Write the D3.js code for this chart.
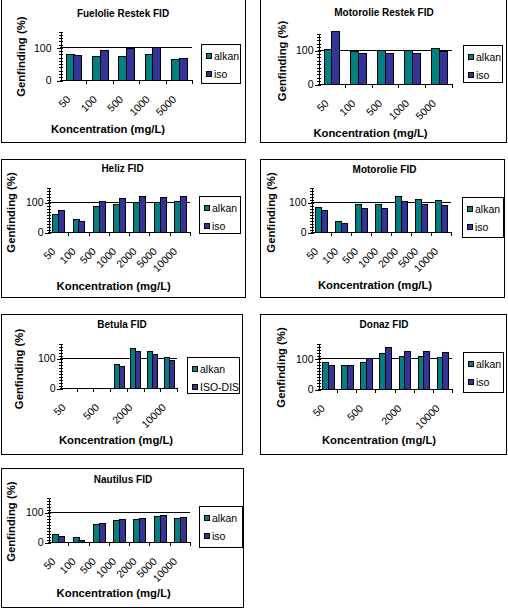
<!DOCTYPE html>
<html>
<head>
<meta charset="utf-8">
<script src="https://cdn.jsdelivr.net/npm/d3@7"></script>
<style>
  body { margin: 0; background: #fff; }
  svg { display: block; font-family: "Liberation Sans", Arial, sans-serif; }
</style>
</head>
<body>
<div id="chart"></div>
<script>
// categories
const cats5 = ["50", "100", "500", "1000", "5000"];
const cats7 = ["50", "100", "500", "1000", "2000", "5000", "10000"];

// series values (Genfinding %)
const fuelAlkan = [81, 73, 72, 79, 63];
const fuelIso = [76, 91, 98, 100, 66];
const motRestekAlkan = [102, 97, 100, 99, 105];
const motRestekIso = [155, 90, 90, 90, 98];
const helizAlkan = [61, 44, 88, 95, 101, 101, 103];
const helizIso = [75, 36, 104, 115, 121, 118, 121];
const motAlkan = [83, 38, 93, 93, 120, 110, 107];
const motIso = [73, 31, 80, 80, 103, 93, 90];
const betulaAlkan = [null, null, null, 80, 133, 123, 103];
const betulaIso = [null, null, null, 73, 123, 113, 93];
const donazAlkan = [87, 77, 87, 116, 106, 106, 103];
const donazIso = [77, 77, 100, 136, 123, 123, 120];
const nautAlkan = [27, 17, 60, 73, 77, 87, 80];
const nautIso = [20, 7, 63, 77, 80, 90, 83];

const titles = ["Fuelolie Restek FID", "Motorolie Restek FID", "Heliz FID", "Motorolie FID",
                "Betula FID", "Donaz FID", "Nautilus FID"];
const yTicks = [0, 100];
const yMax = 150;

const panels = [
  { title: titles[0], cats: cats5, series: ["alkan", "iso"], values: [fuelAlkan, fuelIso] },
  { title: titles[1], cats: cats5, series: ["alkan", "iso"], values: [motRestekAlkan, motRestekIso] },
  { title: titles[2], cats: cats7, series: ["alkan", "iso"], values: [helizAlkan, helizIso] },
  { title: titles[3], cats: cats7, series: ["alkan", "iso"], values: [motAlkan, motIso] },
  { title: titles[4], cats: cats7, series: ["alkan", "ISO-DIS"], values: [betulaAlkan, betulaIso] },
  { title: titles[5], cats: cats7, series: ["alkan", "iso"], values: [donazAlkan, donazIso] },
  { title: titles[6], cats: cats7, series: ["alkan", "iso"], values: [nautAlkan, nautIso] }
];

// panel geometry
const layout = [
  { box: [1, -1, 245, 142], x0: 60, x1: 192, y0: 80, yTop: 31, t: [123, 16.7], xt: [108, 133.3], yt: [25, 56.7], leg: [201, 44, 240, 83], gap: 9, step: 1 },
  { box: [260, -1, 506, 142], x0: 318, x1: 452, y0: 84, yTop: 33, t: [384, 15.7], xt: [370.5, 136.7], yt: [286, 61], leg: [463, 45, 502, 82], gap: 5, step: 1 },
  { box: [1, 159, 245, 297], x0: 48, x1: 190, y0: 232, yTop: 187, t: [122.5, 171.7], xt: [113.7, 290], yt: [15, 212.5], leg: [199, 196, 240, 233], gap: 5, step: 1 },
  { box: [260, 159, 504, 297], x0: 311, x1: 451, y0: 232, yTop: 187, t: [384.5, 173.3], xt: [375, 289.3], yt: [275, 212.5], leg: [462, 197, 503, 237], gap: 5, step: 1 },
  { box: [1, 314, 242, 454], x0: 60, x1: 177, y0: 388, yTop: 343, t: [122, 328.3], xt: [116, 444.3], yt: [23, 369], leg: [187, 357, 239, 393], gap: 5, step: 2 },
  { box: [260, 314, 506, 454], x0: 318, x1: 452, y0: 389, yTop: 343, t: [384, 328.3], xt: [379, 444.3], yt: [285, 367.5], leg: [463, 352, 503, 392], gap: 5, step: 2 },
  { box: [1, 468, 243, 607], x0: 48, x1: 190, y0: 542, yTop: 497, t: [123, 483.3], xt: [113.7, 596.7], yt: [15, 521.7], leg: [199, 506, 242, 547], gap: 5, step: 1 }
];

const color = d3.scaleOrdinal().range(["#008080", "#333399"]);

const svg = d3.select("#chart").append("svg")
    .attr("width", 508)
    .attr("height", 608);

panels.forEach((p, i) => {
    const L = layout[i];
    const g = svg.append("g");

    g.append("rect")
        .attr("x", L.box[0] + 0.5).attr("y", L.box[1] + 0.5)
        .attr("width", L.box[2] - L.box[0]).attr("height", L.box[3] - L.box[1])
        .attr("fill", "#fff").attr("stroke", "#000");

    const x = d3.scaleBand().domain(p.cats).range([L.x0, L.x1]);
    const xs = d3.scaleBand().domain([0, 1]).range([0, x.bandwidth()]).paddingOuter(0.72);
    const y = d3.scaleLinear().domain([0, yMax]).range([L.y0, L.yTop]);

    // gridline at 100
    g.append("line")
        .attr("x1", L.x0).attr("x2", L.x1)
        .attr("y1", Math.round(y(100)) + 0.5).attr("y2", Math.round(y(100)) + 0.5)
        .attr("stroke", "#000");

    // bars
    p.values.forEach((vals, s) => {
        g.append("g")
            .selectAll("rect")
            .data(vals.map((v, k) => ({ cat: p.cats[k], v })).filter(d => d.v != null))
            .join("rect")
            .attr("x", d => Math.round(x(d.cat) + xs(s)) + 0.5)
            .attr("y", d => Math.round(y(d.v)) + 0.5)
            .attr("width", Math.round(xs.bandwidth()))
            .attr("height", d => Math.round(y(0)) - Math.round(y(d.v)))
            .attr("fill", color(s))
            .attr("stroke", "#000")
            .attr("shape-rendering", "crispEdges");
    });

    // y axis: minor (crossing) ticks, then major ticks with labels
    g.append("g")
        .attr("transform", `translate(${L.x0 + 2.5},0.5)`)
        .attr("shape-rendering", "crispEdges")
        .call(d3.axisLeft(y).tickValues(d3.range(0, yMax + 1, 10)).tickSize(4).tickFormat(""))
        .call(a => a.select(".domain").remove());
    g.append("g")
        .attr("transform", `translate(${L.x0 + 0.5},0.5)`)
        .attr("shape-rendering", "crispEdges")
        .call(d3.axisLeft(y).tickValues(yTicks).tickSize(4).tickSizeOuter(0).tickPadding(L.gap - 4))
        .call(a => a.selectAll("text").attr("font-size", "10.5px").attr("fill", "#000"));

    // x axis line with ticks between categories
    const xa = g.append("g").attr("shape-rendering", "crispEdges");
    xa.append("line")
        .attr("x1", L.x0).attr("x2", L.x1 + 1)
        .attr("y1", Math.round(L.y0) + 0.5).attr("y2", Math.round(L.y0) + 0.5)
        .attr("stroke", "#000");
    xa.selectAll(".bt")
        .data(p.cats.slice(1).map(c => x(c)).concat([L.x1]))
        .join("line")
        .attr("x1", d => Math.round(d) + 0.5).attr("x2", d => Math.round(d) + 0.5)
        .attr("y1", L.y0).attr("y2", L.y0 + 4)
        .attr("stroke", "#000");

    // rotated category labels
    g.append("g")
        .selectAll("text")
        .data(p.cats.filter((c, k) => k % L.step === 0))
        .join("text")
        .attr("transform", c => `translate(${x(c) + x.bandwidth() / 2 - 2},${L.y0 + 20}) rotate(-45)`)
        .attr("text-anchor", "end")
        .attr("font-size", "10.5px")
        .text(c => c);

    // titles
    g.append("text")
        .attr("x", L.t[0]).attr("y", L.t[1])
        .attr("text-anchor", "middle")
        .attr("font-weight", "bold").attr("font-size", "10px")
        .text(p.title);
    g.append("text")
        .attr("x", L.xt[0]).attr("y", L.xt[1])
        .attr("text-anchor", "middle")
        .attr("font-weight", "bold").attr("font-size", "11.3px")
        .text("Koncentration (mg/L)");
    g.append("text")
        .attr("transform", `translate(${L.yt[0]},${L.yt[1]}) rotate(-90)`)
        .attr("text-anchor", "middle")
        .attr("font-weight", "bold").attr("font-size", "11.3px")
        .text("Genfinding (%)");

    // legend
    const lg = g.append("g");
    lg.append("rect")
        .attr("x", L.leg[0] + 0.5).attr("y", L.leg[1] + 0.5)
        .attr("width", L.leg[2] - L.leg[0]).attr("height", L.leg[3] - L.leg[1])
        .attr("fill", "#fff").attr("stroke", "#000");
    const item = lg.selectAll(".it")
        .data(p.series)
        .join("g")
        .attr("transform", (d, k) => `translate(${L.leg[0] + 5},${L.leg[1] + 12 + k * 18})`);
    item.append("rect")
        .attr("x", 0.5).attr("y", -2.5)
        .attr("width", 5).attr("height", 5)
        .attr("fill", (d, k) => color(k))
        .attr("stroke", "#000")
        .attr("shape-rendering", "crispEdges");
    item.append("text")
        .attr("x", 8).attr("y", 4)
        .attr("font-size", "10.5px")
        .text(d => d);
});
</script>
</body>
</html>
